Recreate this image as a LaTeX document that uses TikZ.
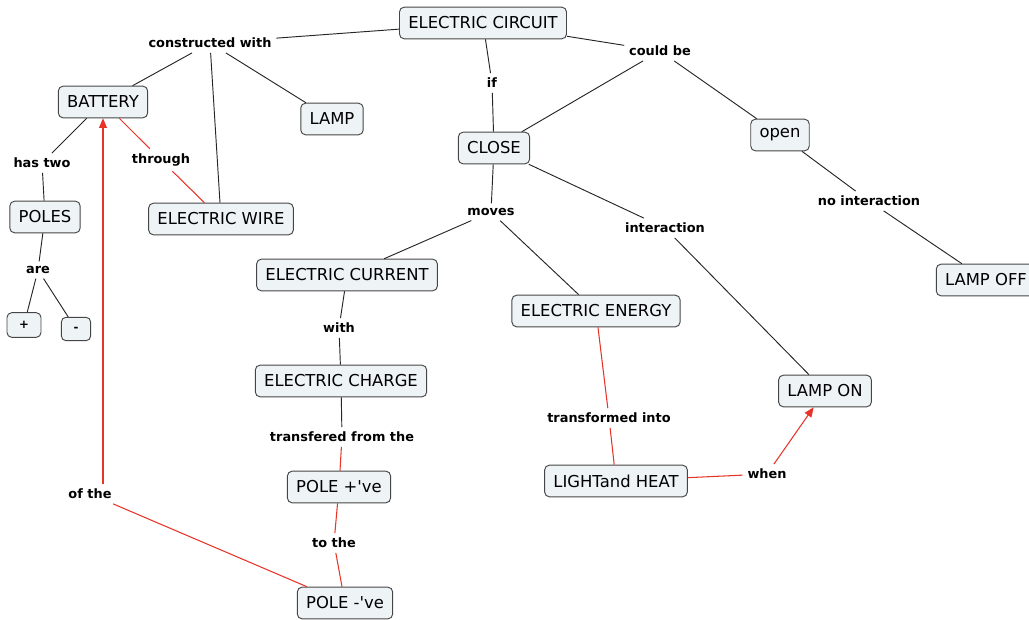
\documentclass[tikz,border=0pt]{standalone}
\usepackage{fontspec}
\setmainfont{DejaVu Sans}
\usepackage{xcolor}
\usepackage{tikz}
\usetikzlibrary{arrows}

\definecolor{boxfill}{RGB}{238,243,246}
\definecolor{boxline}{RGB}{70,70,70}
\definecolor{redlink}{RGB}{232,52,40}

\tikzset{
  concept/.style={draw=boxline, fill=boxfill, rounded corners=4pt, line width=0.8pt,
    font=\fontsize{14}{16}\selectfont, inner xsep=7.5pt, minimum height=27pt},
  phrase/.style={font=\fontsize{11}{13}\selectfont\bfseries, inner sep=4pt},
  blink/.style={draw=black!85, line width=0.8pt},
  rlink/.style={draw=redlink, line width=0.9pt}
}

\begin{document}
\begin{tikzpicture}[x=0.03cm, y=-0.03cm]
\useasboundingbox (0,0) rectangle (1029,620);

\node[concept] (circuit) at (483,23) {ELECTRIC CIRCUIT};
\node[phrase] (constr) at (210,43) {constructed with};
\node[concept] (battery) at (103,102) {BATTERY};
\node[concept] (lamp) at (332,119) {LAMP};
\node[phrase] (hastwo) at (42,163) {has two};
\node[phrase] (through) at (161,160) {through};
\node[concept] (poles) at (45,217) {POLES};
\node[concept] (wire) at (221,219) {ELECTRIC WIRE};
\node[phrase] (are) at (38,270) {are};
\node[concept, font=\fontsize{10}{12}\selectfont\bfseries, minimum width=29pt, minimum height=21pt] (plus) at (24,325) {+};
\node[concept, font=\fontsize{10}{12}\selectfont\bfseries, minimum width=25pt, minimum height=20pt] (minus) at (76,329) {-};
\node[phrase] (ofthe) at (90,494) {of the};

\node[phrase] (if) at (492,83) {if};
\node[phrase] (couldbe) at (660,51) {could be};
\node[concept] (close) at (494,148) {CLOSE};
\node[concept] (open) at (780,135) {open};
\node[phrase] (moves) at (491,212) {moves};
\node[phrase] (inter) at (665,228) {interaction};
\node[phrase] (nointer) at (869,201) {no interaction};
\node[concept] (lampoff) at (986,280) {LAMP OFF};

\node[concept] (current) at (347,275) {ELECTRIC CURRENT};
\node[concept] (energy) at (596,311) {ELECTRIC ENERGY};
\node[phrase] (with) at (339,328) {with};
\node[concept] (charge) at (341,381) {ELECTRIC CHARGE};
\node[phrase] (transf) at (342,437) {transfered from the};
\node[concept] (lampon) at (825,391) {LAMP ON};
\node[phrase] (into) at (609,418) {transformed into};
\node[concept] (light) at (616,481) {LIGHTand HEAT};
\node[phrase] (when) at (767,474) {when};
\node[concept] (poleplus) at (339,487) {POLE +\textquotesingle ve};
\node[phrase] (tothe) at (334,543) {to the};
\node[concept] (poleminus) at (345,603) {POLE -\textquotesingle ve};

% black links
\path[blink]
(circuit) edge (constr)
	edge (if)
	edge (couldbe)
(constr) edge (battery)
	edge (wire)
	edge (lamp)
(battery) edge (hastwo)
(hastwo) edge (poles)
(poles) edge (are)
(are) edge (plus)
	edge (minus)
(if) edge (close)
(couldbe) edge (close)
	edge (open)
(close) edge (moves)
	edge (inter)
(moves) edge (current)
	edge (energy)
(inter) edge (lampon)
(open) edge (nointer)
(nointer) edge (lampoff)
(current) edge (with)
(with) edge (charge)
(charge) edge (transf);

% red links
\path[rlink]
(battery) edge (through)
(through) edge (wire)
(transf) edge (poleplus)
(poleplus) edge (tothe)
(tothe) edge (poleminus)
(poleminus) edge (ofthe)
(energy) edge (into)
(into) edge (light)
(light) edge (when);

\draw[rlink, -triangle 45] (ofthe.north -| battery) -- (battery);
\draw[rlink, -triangle 45] (when) -- (lampon);
\end{tikzpicture}
\end{document}
